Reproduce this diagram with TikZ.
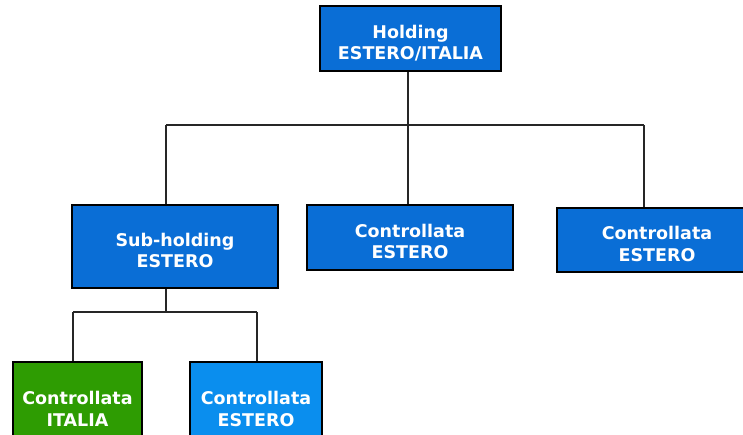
\documentclass[tikz,border=0pt]{standalone}
\usepackage{fontspec}
\setmainfont{DejaVu Sans}
\definecolor{dblue}{HTML}{0A6ED6}
\definecolor{lblue}{HTML}{0A8EEE}
\definecolor{dgreen}{HTML}{2E9C02}
\newcommand\twol[2]{\raisebox{-6pt}[\height][\depth]{\begin{tabular}{@{}c@{}}#1\\#2\end{tabular}}}
\begin{document}
\begin{tikzpicture}[x=1pt,y=-1pt,
  box/.style={draw=black,line width=1.8pt,fill=dblue,text=white,font=\bfseries\fontsize{17.5}{21.5}\selectfont,inner sep=0pt,anchor=center},
  conn/.style={draw=black!85,line width=1.8pt}]
\useasboundingbox (0,0) rectangle (743,434);
\begin{scope}
\clip (0,0) rectangle (743,434);
\node[box,minimum width=181pt,minimum height=65pt] (hold) at (410.5,38.5) {\twol{Holding}{ESTERO/ITALIA}};
\node[box,minimum width=206pt,minimum height=83pt] (sub) at (175,246.5) {\twol{Sub-holding}{ESTERO}};
\node[box,minimum width=206pt,minimum height=65pt] (mid) at (410,237.5) {\twol{Controllata}{ESTERO}};
\node[box,minimum width=200pt,minimum height=64pt] (right) at (657,240) {\twol{Controllata}{ESTERO}};
\node[box,fill=dgreen,minimum width=129pt,minimum height=86pt] (ita) at (77.5,405) {\twol{Controllata}{ITALIA}};
\node[box,fill=lblue,minimum width=132pt,minimum height=86pt] (est) at (256,405) {\twol{Controllata}{ESTERO}};
\coordinate (j1) at (408,125);
\coordinate (j2) at (166,312);
\draw[conn] (hold.south -| j1) -- (j1);
\draw[conn] (166,125) -- (644,125);
\draw[conn] (166,125) -- (sub.north -| 166,0);
\draw[conn] (408,125) -- (mid.north -| 408,0);
\draw[conn] (644,125) -- (right.north -| 644,0);
\draw[conn] (sub.south -| j2) -- (j2);
\draw[conn] (73,312) -- (257,312);
\draw[conn] (73,312) -- (ita.north -| 73,0);
\draw[conn] (257,312) -- (est.north -| 257,0);
\end{scope}
\end{tikzpicture}
\end{document}
